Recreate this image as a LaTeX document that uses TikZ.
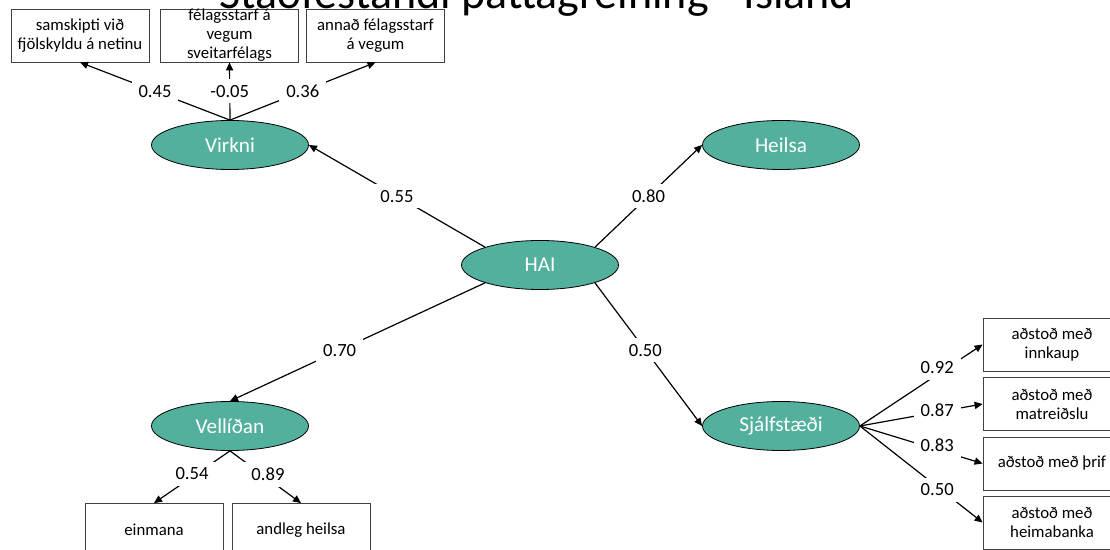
\documentclass[tikz,border=0pt]{standalone}
\usepackage{fontspec}
\setmainfont{Carlito}
\usetikzlibrary{arrows.meta,shapes.geometric}
\definecolor{LTeal}{HTML}{52B09C}
\definecolor{LGray}{HTML}{404040}

\begin{document}
\begin{tikzpicture}[
  x=0.5pt,y=-0.5pt,
  latent/.style={ellipse,draw=black,fill=LTeal,text=white,
    minimum width=78.5pt,minimum height=24.5pt,inner sep=0pt,
    font=\fontsize{10.6}{12}\selectfont},
  item/.style={draw=LGray,fill=white,minimum width=69pt,minimum height=26.5pt,
    inner sep=0pt,align=center,font=\fontsize{8.4}{9.5}\selectfont},
  arr/.style={-{Triangle[length=4pt,width=3.6pt]},line width=0.6pt},
  lbl/.style={fill=white,inner xsep=3.5pt,inner ysep=3pt,
    font=\fontsize{9.3}{10}\selectfont}
]
  \useasboundingbox (0,0) rectangle (1110,550);
  \clip (0,0) rectangle (1110,550);
  \node[anchor=base,font=\fontsize{23}{23}\selectfont] (title) at (537,8.5)
    {Staðfestandi þáttagreining - Ísland};

  % latent factors
  \node[latent] (hai) at (540,265) {HAI};
  \node[latent] (virkni) at (230,145) {Virkni};
  \node[latent] (heilsa) at (781,145) {Heilsa};
  \node[latent] (vellidan) at (230,426) {Vellíðan};
  \node[latent] (sjalf) at (781,426) {Sjálfstæði};

  % indicators
  \node[item] (netfam) at (80,35.5) {samskipti við\\fjölskyldu á netinu};
  \node[item] (sveit) at (229.5,35.5) {félagsstarf á\\vegum\\sveitarfélags};
  \node[item] (annad) at (375.5,35.5) {annað félagsstarf\\á vegum};
  \node[item] (einmana) at (154,530) {einmana};
  \node[item] (andleg) at (301,530) {andleg heilsa};
  \node[item] (innkaup) at (1052,344.5) {aðstoð með\\innkaup};
  \node[item] (matreid) at (1052,404) {aðstoð með\\matreiðslu};
  \node[item] (thrif) at (1052,463.5) {aðstoð með þrif};
  \node[item] (banki) at (1052,522.5) {aðstoð með\\heimabanka};

  \draw[arr] (hai.162) -- node[lbl] {0.55} (virkni.east);
  \draw[arr] (hai.18) -- node[lbl] {0.80} (heilsa.west);
  \draw[arr] (hai.198) -- node[lbl,pos=.57] {0.70} (vellidan.north);
  \draw[arr] (hai.342) -- node[lbl,pos=.47] {0.50} (sjalf.west);

  \draw[arr] (virkni.north) -- node[lbl] {0.45} (netfam.south);
  \draw[arr] (virkni.north) -- node[lbl] {-0.05} (sveit.south);
  \draw[arr] (virkni.north) -- node[lbl] {0.36} (annad.south);

  \draw[arr] (vellidan.south) -- node[lbl,yshift=1.5pt] {0.54} (einmana.north);
  \draw[arr] (vellidan.south) -- node[lbl,pos=.45,xshift=3pt] {0.89} (andleg.north);

  \draw[arr] (sjalf.east) -- node[lbl,pos=.63,yshift=3.5pt] {0.92} (innkaup.west);
  \draw[arr] (sjalf.east) -- node[lbl,pos=.63,yshift=1pt] {0.87} (matreid.west);
  \draw[arr] (sjalf.east) -- node[lbl,pos=.63,yshift=2pt] {0.83} (thrif.west);
  \draw[arr] (sjalf.east) -- node[lbl,pos=.63,yshift=-1.5pt] {0.50} (banki.west);
\end{tikzpicture}
\end{document}
